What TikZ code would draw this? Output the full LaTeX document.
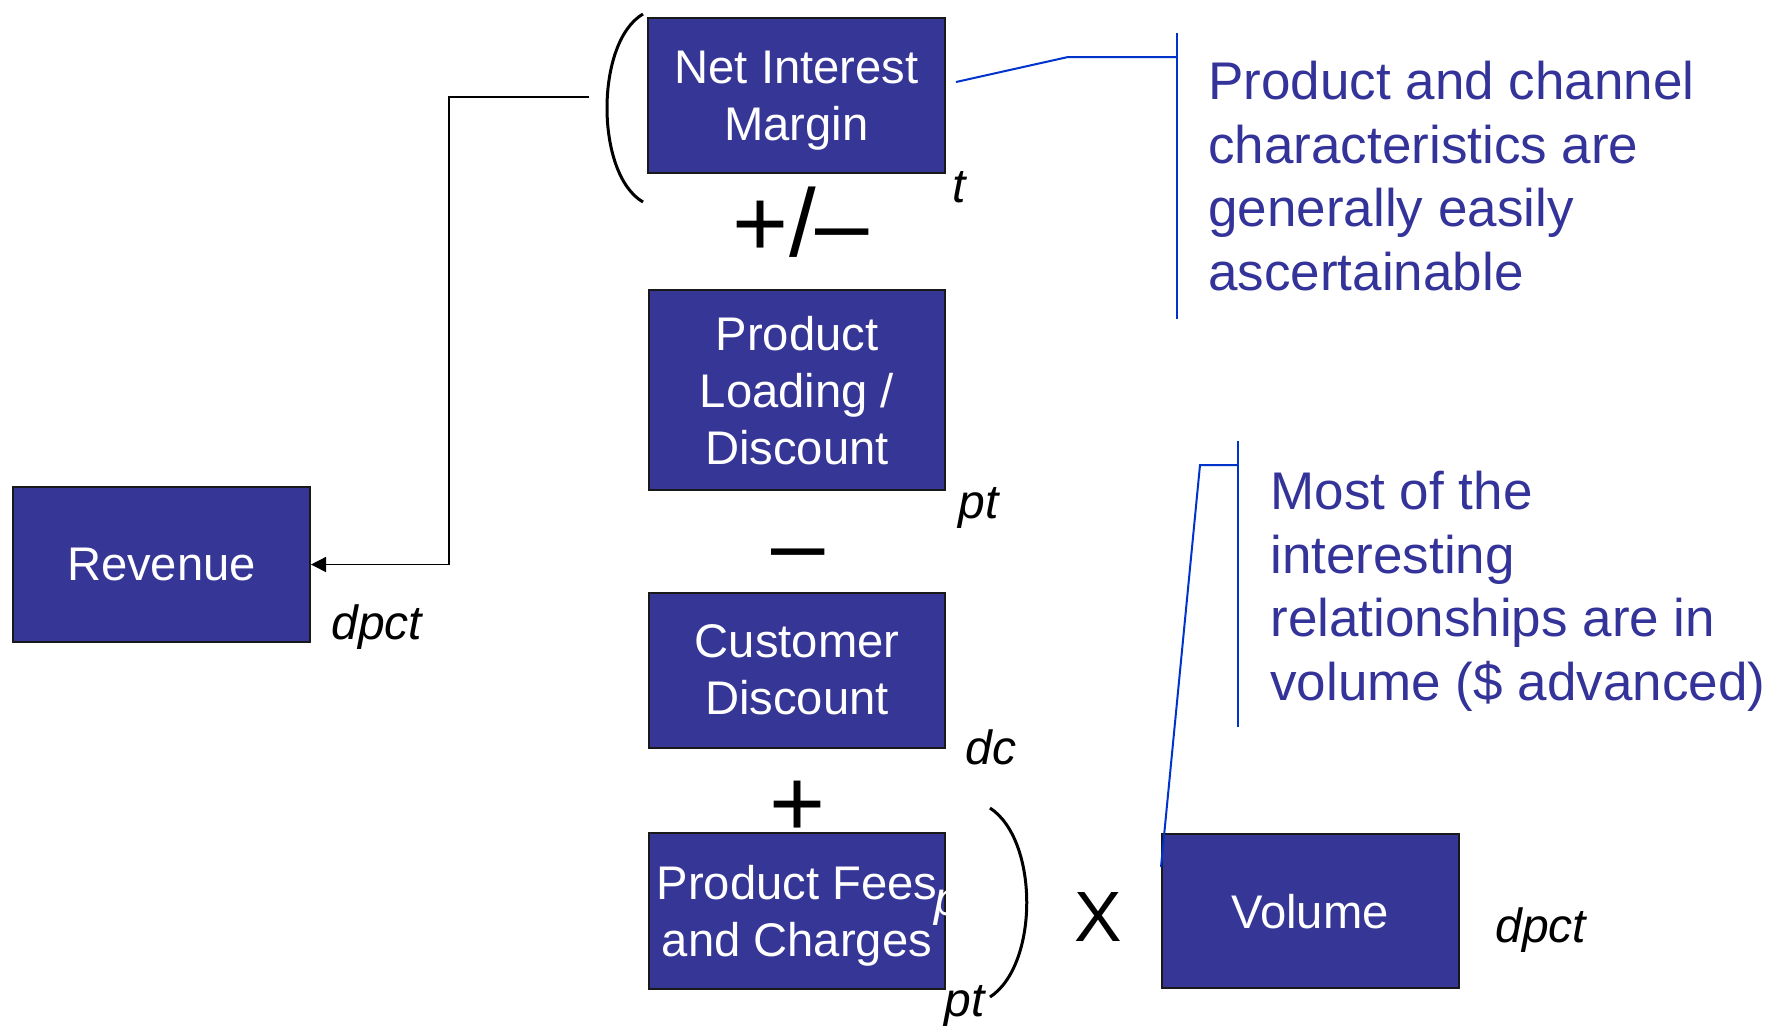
\documentclass[tikz,border=0pt]{standalone}
\usepackage{fontspec}
\setmainfont{Liberation Sans}
\usetikzlibrary{arrows.meta}
\definecolor{boxblue}{HTML}{363696}
\definecolor{notetext}{HTML}{333399}
\definecolor{leader}{HTML}{0033CC}
\begin{document}
\begin{tikzpicture}[x=0.5pt,y=-0.5pt,
  factor/.style={draw=black!90, line width=1pt, fill=boxblue, text=white,
    align=center, inner sep=1pt, text depth=0pt, font=\fontsize{23.6}{28.5}\selectfont},
  idx/.style={font=\fontsize{24}{28}\selectfont\itshape, inner sep=0pt, anchor=base west},
  op/.style={font=\fontsize{48}{48}\selectfont, inner sep=0pt, anchor=base},
  note/.style={text=notetext, align=left, font=\fontsize{26.5}{31.75}\selectfont,
    inner sep=0pt, anchor=base west},
  leaderline/.style={draw=leader, line width=1pt},
  paren/.style={line width=1.5pt},
  feed/.style={line width=0.7pt, -{Triangle[length=7.5pt,width=7.5pt]}}
]
\useasboundingbox (0,0) rectangle (1767,1025);

% factor boxes
\node[factor, minimum width=148.5pt, minimum height=77.5pt] (nim) at (796.5,95.5) {Net Interest\\Margin};
\node[factor, minimum width=148pt, minimum height=100pt] (pld) at (797,390) {Product\\Loading /\\Discount};
\node[factor, minimum width=148pt, minimum height=77.5pt] (cd) at (797,670) {Customer\\Discount};
\node[factor, minimum width=148pt, minimum height=78pt] (pfc) at (797,911) {Product Fees\\and Charges};
\node[factor, minimum width=148.5pt, minimum height=77.5pt] (rev) at (161.5,564.5) {Revenue};
\node[factor, minimum width=148.5pt, minimum height=77pt] (vol) at (1310,911) {Volume};

% stray subscript showing through the fees box
\node[idx, text=white] (pfcp) at (934,915) {p};

% dimension subscripts
\node[idx] (nimt) at (952,202) {t};
\node[idx] (pldpt) at (958,518) {pt};
\node[idx] (cddc) at (965,764) {dc};
\node[idx] (pfcpt) at (944,1016) {pt};
\node[idx] (revdpct) at (331,639) {dpct};
\node[idx] (voldpct) at (1495,942) {dpct};

% operators
\node[op] (pm) at (801,256) {+/–};
\node[op] (minus) at (798,576) {–};
\node[op] (plus) at (798,836) {+};
\node[font=\fontsize{35.6}{36}\selectfont, inner sep=0pt, anchor=base] (times) at (1098.5,941) {X};

% brackets
\coordinate (lpt) at (643,14);
\coordinate (lpb) at (643,202);
\coordinate (rpt) at (990,808);
\coordinate (rpb) at (990,997);
\draw[paren] (lpt) .. controls (595,42) and (595,174) .. (lpb);
\draw[paren] (rpt) .. controls (1039,840) and (1039,965) .. (rpb);

% feed from the bracketed sum to revenue
\coordinate (feedstart) at (589,97);
\draw[feed] (feedstart) -- (449,97) |- (rev.east);

% notes (anchored on the baseline of their last line)
\node[note] (note1) at (1208,290) {Product and channel\\characteristics are\\generally easily\\ascertainable};
\node[note] (note2) at (1270,700) {Most of the\\interesting\\relationships are in\\volume (\$ advanced)};

% note leaders
\coordinate (n1top) at (1177,33);
\coordinate (n1bot) at (1177,319);
\coordinate (n1tie) at (1177,57);
\coordinate (n1from) at (956,82);
\draw[leaderline] (n1top) -- (n1bot);
\draw[leaderline] (n1from) -- (1068,57) -- (n1tie);

\coordinate (n2top) at (1238,441);
\coordinate (n2bot) at (1238,727);
\coordinate (n2tie) at (1238,465);
\coordinate (n2from) at (1161,867);
\draw[leaderline] (n2top) -- (n2bot);
\draw[leaderline] (n2from) -- (1200,465) -- (n2tie);
\end{tikzpicture}
\end{document}
